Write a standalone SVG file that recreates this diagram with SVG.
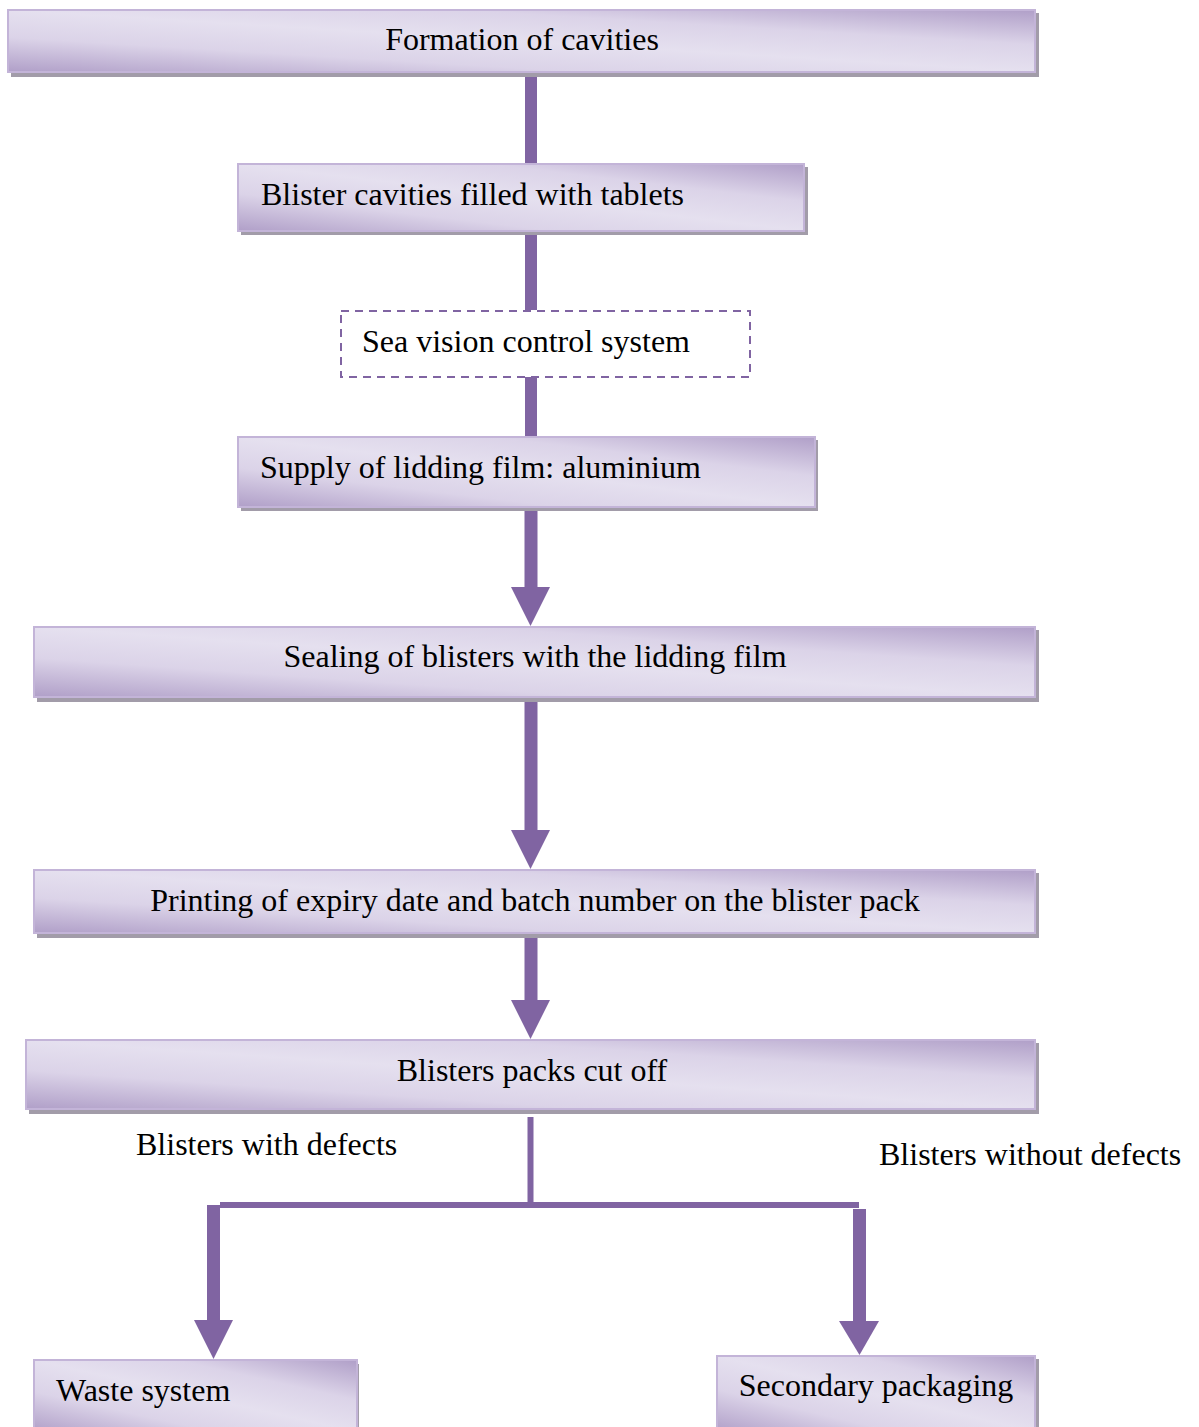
<svg xmlns="http://www.w3.org/2000/svg" width="1199" height="1427" viewBox="0 0 1199 1427">
<defs>
<linearGradient id="g" x1="0" y1="1" x2="1" y2="0">
<stop offset="0" stop-color="#b09fc8"/>
<stop offset="0.28" stop-color="#dbd3e8"/>
<stop offset="0.5" stop-color="#e5e0ef"/>
<stop offset="0.72" stop-color="#dbd3e8"/>
<stop offset="1" stop-color="#b09fc8"/>
</linearGradient>
</defs>
<style>
.sh{fill:#a29ca9}
.bx{fill:url(#g);stroke:#c3b4d8;stroke-width:2}
.dash{fill:#fff;stroke:#8064a2;stroke-width:2;stroke-dasharray:8 6}
.t{font-family:"Liberation Serif","Times New Roman",serif;font-size:32px;fill:#000}
.m{text-anchor:middle}
.c{fill:#8064a2;stroke:none}
</style>
<g id="connectors">
<rect class="c" x="525" y="72" width="12" height="92"/>
<rect class="c" x="525" y="232" width="12" height="78"/>
<rect class="c" x="525" y="377" width="12" height="60"/>
<rect class="c" x="524.5" y="507" width="13" height="81"/>
<polygon class="c" points="511,587 550,587 530.5,626"/>
<rect class="c" x="524.5" y="698" width="13" height="133"/>
<polygon class="c" points="511,830 550,830 530.5,869"/>
<rect class="c" x="524.5" y="934" width="13" height="67"/>
<polygon class="c" points="511,1000 550,1000 530.5,1039"/>
<rect class="c" x="527.5" y="1117" width="6" height="91"/>
<rect class="c" x="220" y="1202" width="639" height="6"/>
<rect class="c" x="207" y="1205" width="13" height="116"/>
<polygon class="c" points="194,1320 233,1320 213.5,1359"/>
<rect class="c" x="853" y="1209" width="13" height="113"/>
<polygon class="c" points="839,1321 879,1321 859.5,1355"/>
</g>
<g id="n1">
<rect class="sh" x="11" y="13" width="1028" height="64"/>
<rect class="bx" x="8" y="10" width="1027" height="62"/>
<text class="t m" x="522" y="50">Formation of cavities</text>
</g>
<g id="n2">
<rect class="sh" x="241" y="167" width="567" height="68"/>
<rect class="bx" x="238" y="164" width="566" height="67"/>
<text class="t" x="261" y="205">Blister cavities filled with tablets</text>
</g>
<g id="n3">
<rect class="dash" x="341" y="311" width="409" height="66"/>
<text class="t" x="362" y="352">Sea vision control system</text>
</g>
<g id="n4">
<rect class="sh" x="241" y="440" width="577" height="71"/>
<rect class="bx" x="238" y="437" width="577" height="70"/>
<text class="t" x="260" y="478">Supply of lidding film: aluminium</text>
</g>
<g id="n5">
<rect class="sh" x="37" y="630" width="1002" height="72"/>
<rect class="bx" x="34" y="627" width="1001" height="70"/>
<text class="t m" x="535" y="667">Sealing of blisters with the lidding film</text>
</g>
<g id="n6">
<rect class="sh" x="37" y="873" width="1002" height="65"/>
<rect class="bx" x="34" y="870" width="1001" height="63"/>
<text class="t m" x="535" y="911">Printing of expiry date and batch number on the blister pack</text>
</g>
<g id="n7">
<rect class="sh" x="29" y="1043" width="1010" height="71"/>
<rect class="bx" x="26" y="1040" width="1009" height="69"/>
<text class="t m" x="532" y="1081">Blisters packs cut off</text>
</g>
<g id="l1">
<text class="t" x="136" y="1155">Blisters with defects</text>
</g>
<g id="l2">
<text class="t" x="879" y="1165">Blisters without defects</text>
</g>
<g id="n8">
<rect class="sh" x="37" y="1364" width="322" height="70"/>
<rect class="bx" x="34" y="1360" width="323" height="72"/>
<text class="t" x="56" y="1401">Waste system</text>
</g>
<g id="n9">
<rect class="sh" x="720" y="1359" width="319" height="75"/>
<rect class="bx" x="717" y="1356" width="318" height="76"/>
<text class="t m" x="876" y="1396">Secondary packaging</text>
</g>
</svg>
